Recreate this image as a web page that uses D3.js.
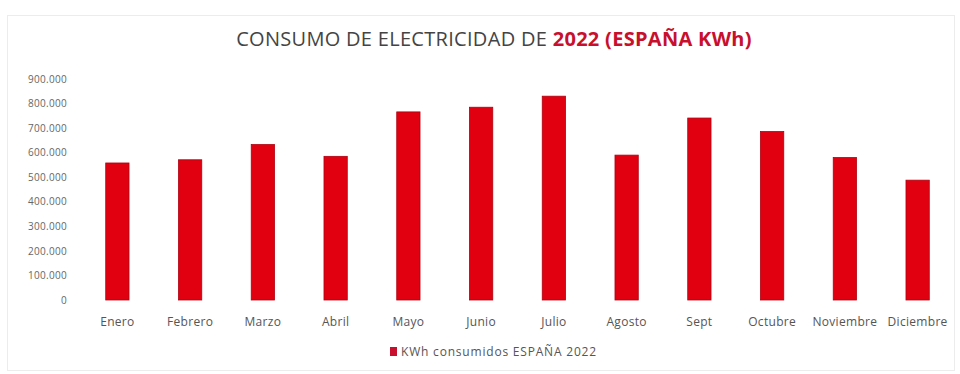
<!DOCTYPE html>
<html>
<head>
<meta charset="utf-8">
<script src="https://cdn.jsdelivr.net/npm/d3@7"></script>
<style>
  body { margin: 0; background: #fff; }
  text { font-family: "Open Sans", "Noto Sans", sans-serif; }
</style>
</head>
<body>
<svg id="chart" width="960" height="374"></svg>
<script>
const months = ["Enero", "Febrero", "Marzo", "Abril", "Mayo", "Junio", "Julio",
  "Agosto", "Sept", "Octubre", "Noviembre", "Diciembre"];
const kwh = [558000, 571000, 633000, 585000, 766000, 785000, 830000,
  590000, 741000, 686000, 580000, 488000];
const yTicks = [0, 100000, 200000, 300000, 400000, 500000, 600000, 700000, 800000, 900000];

const svg = d3.select("#chart");
const margin = { top: 79, right: 6, bottom: 74, left: 81 };
const width = 960 - margin.left - margin.right;
const height = 374 - margin.top - margin.bottom;

// faint frame of the chart area
svg.append("rect")
  .attr("x", 7.5).attr("y", 15.5)
  .attr("width", 947).attr("height", 355)
  .attr("fill", "none")
  .attr("stroke", "#ececec");

// title
const title = svg.append("text")
  .attr("x", 494)
  .attr("y", 46)
  .attr("text-anchor", "middle")
  .style("font-size", "20px")
  .style("letter-spacing", "0.3px");
title.append("tspan").attr("fill", "#444").text("CONSUMO DE ELECTRICIDAD DE ");
title.append("tspan").attr("fill", "#c8102e").attr("font-weight", "bold").text("2022 (ESPAÑA KWh)");

const g = svg.append("g").attr("transform", `translate(${margin.left},${margin.top})`);

const x = d3.scaleBand().domain(months).range([0, width]).paddingInner(0.68).paddingOuter(0.34);
const y = d3.scaleLinear().domain([0, 900000]).range([height, 0]);

const fmt = d => d3.format(",")(d).replace(/,/g, ".");

// y axis, labels only
g.append("g")
  .attr("class", "y axis")
  .attr("transform", "translate(-11,0)")
  .call(d3.axisLeft(y).tickValues(yTicks).tickSize(0).tickFormat(fmt))
  .call(a => a.select(".domain").remove())
  .call(a => a.selectAll("text").attr("fill", "#666").style("font-size", "10px").style("letter-spacing", "0.3px"));

// bars
g.selectAll(".bar")
  .data(kwh)
  .join("rect")
  .attr("class", "bar")
  .attr("x", (d, i) => x(months[i]))
  .attr("y", d => y(d))
  .attr("width", x.bandwidth())
  .attr("height", d => height - y(d))
  .attr("fill", "#e0000f")
  .attr("stroke", "#b00010")
  .attr("stroke-width", 0.8);

// x axis, labels only
g.append("g")
  .attr("class", "x axis")
  .attr("transform", `translate(0,${height + 14})`)
  .call(d3.axisBottom(x).tickSize(0))
  .call(a => a.select(".domain").remove())
  .call(a => a.selectAll("text").attr("fill", "#555").style("font-size", "12px").style("letter-spacing", "0.3px"));

// legend
const legend = svg.append("g").attr("transform", "translate(390,347)");
legend.append("rect").attr("width", 7).attr("height", 9).attr("fill", "#c8102e");
legend.append("text")
  .attr("x", 11).attr("y", 9)
  .attr("fill", "#555")
  .style("font-size", "12px")
  .style("letter-spacing", "0.8px")
  .text("KWh consumidos ESPAÑA 2022");
</script>
</body>
</html>
